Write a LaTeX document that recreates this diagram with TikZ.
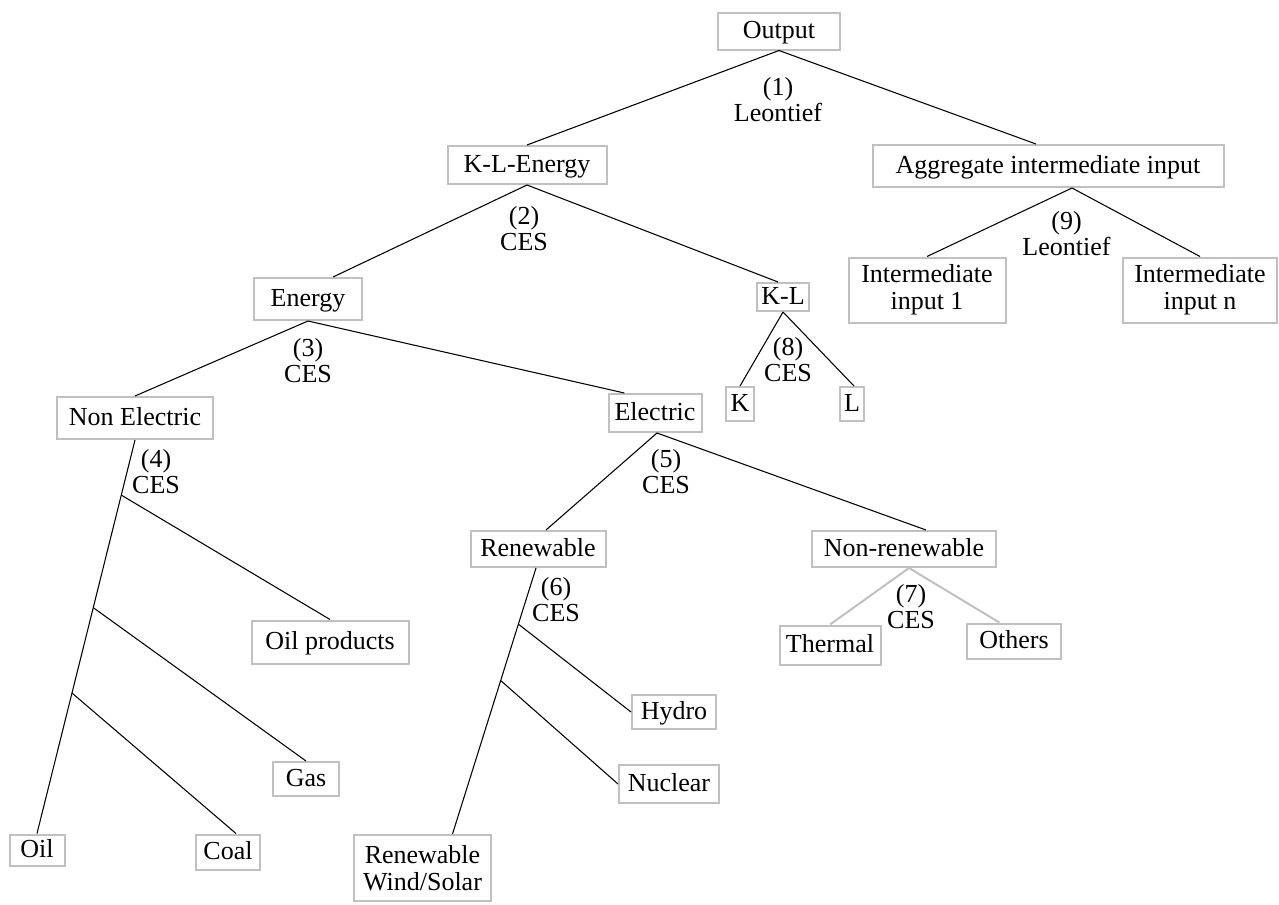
\documentclass[tikz,border=0pt]{standalone}
\usepackage{fontspec}
\setmainfont{Liberation Serif}
\usetikzlibrary{calc}
\definecolor{boxgray}{RGB}{192,192,192}
\tikzset{
  box/.style={draw=boxgray, line width=1.5pt, inner sep=0pt, align=center,
    font=\fontsize{19.5}{20.5}\selectfont},
  one/.style={box, text height=13.5pt, text depth=2.5pt},
  sz/.style 2 args={minimum width=#1*0.75pt, minimum height=#2*0.75pt},
  lab/.style={inner sep=0pt, align=center, font=\fontsize{19.5}{19.5}\selectfont},
  link/.style={line width=0.8pt},
  glink/.style={draw=boxgray, line width=1.5pt},
}
\begin{document}
\begin{tikzpicture}[x=0.75pt,y=0.75pt,yscale=-1,xscale=1]
        \useasboundingbox (0,0) rectangle (1279,904);

        % Boxes
        \node[one, sz={122}{37}] (out) at (779,31) {Output};
        \node[one, sz={159}{38}] (kle) at (527,165) {K-L-Energy};
        \node[one, sz={351}{42}] (agg) at (1048,166) {Aggregate intermediate input};
        \node[one, sz={108}{42}] (energy) at (308,299) {Energy};
        \node[one, sz={52}{28}] (kl) at (783,297) {K-L};
        \node[box, sz={157}{65}] (in1) at (927,290) {Intermediate\\input 1};
        \node[box, sz={154}{65}] (inn) at (1200,290) {Intermediate\\input n};
        \node[one, sz={156}{42}] (nonel) at (135,418) {Non Electric};
        \node[one, sz={93}{38}] (elec) at (655,413) {Electric};
        \node[one, sz={28}{34}] (k) at (740,404) {K};
        \node[one, sz={24}{34}] (l) at (852,404) {L};
        \node[one, sz={135}{36}] (ren) at (538,549) {Renewable};
        \node[one, sz={184}{36}] (nonren) at (904,549) {Non-renewable};
        \node[one, sz={101}{39}] (thermal) at (830,645) {Thermal};
        \node[one, sz={94}{35}] (others) at (1014,641) {Others};
        \node[one, sz={157}{43}] (oilp) at (330,642) {Oil products};
        \node[one, sz={66}{34}] (gas) at (306,779) {Gas};
        \node[one, sz={84}{34}] (hydro) at (674,712) {Hydro};
        \node[one, sz={100}{38}] (nuclear) at (669,784) {Nuclear};
        \node[one, sz={55}{31}] (oil) at (37,850) {Oil};
        \node[one, sz={64}{35}] (coal) at (228,852) {Coal};
        \node[box, sz={137}{66}] (ws) at (422.5,868) {Renewable\\Wind/Solar};

        % Nesting labels
        \node[lab] (lab1) at (778,100) {(1)\\Leontief};
        \node[lab] (lab2) at (524,228.5) {(2)\\CES};
        \node[lab] (lab3) at (308,361) {(3)\\CES};
        \node[lab] (lab4) at (156,471.5) {(4)\\CES};
        \node[lab] (lab5) at (666,471.5) {(5)\\CES};
        \node[lab] (lab6) at (556,599.5) {(6)\\CES};
        \node[lab] (lab7) at (911,607) {(7)\\CES};
        \node[lab] (lab8) at (788,359.5) {(8)\\CES};
        \node[lab] (lab9) at (1066.5,234) {(9)\\Leontief};

        % Tree links
        \draw[link] (out.south) -- (kle.north);
        \draw[link] (out.south) -- ([xshift=-9pt]agg.north);
        \draw[link] (kle.south) -- ([xshift=18.75pt]energy.north);
        \draw[link] (kle.south) -- ([xshift=-3.75pt]kl.north);
        \draw[link] ([xshift=18pt]agg.south) -- (in1.north);
        \draw[link] ([xshift=18pt]agg.south) -- (inn.north);
        \draw[link] (energy.south) -- (nonel.north);
        \draw[link] (energy.south) -- ([xshift=-23pt]elec.north);
        \draw[link] (kl.south) -- (k.north);
        \draw[link] (kl.south) -- ([xshift=1.5pt]l.north);
        \draw[link] ([xshift=1.5pt]elec.south) -- ([xshift=6pt]ren.north);
        \draw[link] ([xshift=1.5pt]elec.south) -- ([xshift=16.5pt]nonren.north);
        \draw[glink] ([xshift=3.75pt]nonren.south) -- (thermal.north);
        \draw[glink] ([xshift=3.75pt]nonren.south) -- ([xshift=-11pt]others.north);

        % Non electric stem
        \coordinate (ne0) at (nonel.south);
        \coordinate (ne1) at (oil.north);
        \draw[link] (ne0) -- (ne1);
        \coordinate (bp1) at ($(ne0)!0.14!(ne1)$);
        \coordinate (bp2) at ($(ne0)!0.426!(ne1)$);
        \coordinate (bp3) at ($(ne0)!0.643!(ne1)$);
        \draw[link] (bp1) -- (oilp.north);
        \draw[link] (bp2) -- (gas.north);
        \draw[link] (bp3) -- ([xshift=6pt]coal.north);

        % Renewable stem
        \coordinate (re0) at ([xshift=-1.5pt]ren.south);
        \coordinate (re1) at ([xshift=22.5pt]ws.north);
        \draw[link] (re0) -- (re1);
        \coordinate (rp1) at ($(re0)!0.211!(re1)$);
        \coordinate (rp2) at ($(re0)!0.423!(re1)$);
        \draw[link] (rp1) -- (hydro.west);
        \draw[link] (rp2) -- (nuclear.west);

\end{tikzpicture}
\end{document}
